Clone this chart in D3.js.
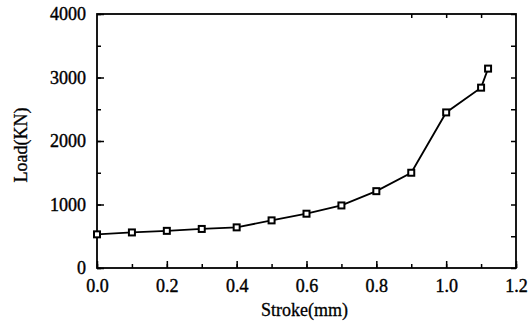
<!DOCTYPE html>
<html>
  <head>
    <meta charset="utf-8" />
    <script src="https://d3js.org/d3.v7.min.js"></script>
    <style>
      body { margin: 0; background: #fff; overflow: hidden; }
      svg { display: block; }
      svg text { font-family: 'Liberation Serif', 'DejaVu Serif', 'Times New Roman', serif; fill: #000; }
      .tick text { font-size: 18px; }
      .axis-label { font-size: 18px; }
    </style>
  </head>
  <body>
    <script>
      const stroke = [0, 0.1, 0.2, 0.3, 0.4, 0.5, 0.6, 0.7, 0.8, 0.9, 1.0, 1.1, 1.12];
      const load = [530, 560, 585, 615, 640, 750, 855, 985, 1210, 1500, 2450, 2840, 3140];
      const xTicks = [0, 0.2, 0.4, 0.6, 0.8, 1.0, 1.2];
      const yTicks = [0, 1000, 2000, 3000, 4000];

      const width = 531, height = 330;
      const margin = { left: 97, right: 15, top: 14, bottom: 62 };
      const innerWidth = width - margin.left - margin.right;
      const innerHeight = height - margin.top - margin.bottom;

      const svg = d3.select('body').append('svg')
        .attr('width', width).attr('height', height);
      const g = svg.append('g')
        .attr('transform', `translate(${margin.left},${margin.top})`);

      const x = d3.scaleLinear().domain([0, 1.2]).range([0, innerWidth]);
      const y = d3.scaleLinear().domain([0, 4000]).range([innerHeight, 0]);

      // frame
      g.append('rect')
        .attr('width', innerWidth).attr('height', innerHeight)
        .attr('fill', 'none').attr('stroke', '#000').attr('stroke-width', 1.8);

      // minor ticks (no labels)
      const xMinor = d3.range(0, 1.21, 0.1);
      const yMinor = d3.range(0, 4001, 500);
      const minor = [];
      minor.push(g.append('g').attr('transform', `translate(0,${innerHeight})`)
        .call(d3.axisBottom(x).tickValues(xMinor).tickSize(-4)));
      minor.push(g.append('g').call(d3.axisTop(x).tickValues([0.9, 1.0, 1.1]).tickSize(-4)));
      minor.push(g.append('g').call(d3.axisLeft(y).tickValues(yMinor).tickSize(-4)));
      minor.push(g.append('g').attr('transform', `translate(${innerWidth},0)`)
        .call(d3.axisRight(y).tickValues(yMinor).tickSize(-5)));
      minor.forEach(a => a.selectAll('text').remove());

      // major ticks with labels
      g.append('g').attr('transform', `translate(0,${innerHeight})`)
        .call(d3.axisBottom(x).tickValues(xTicks).tickSize(-7).tickPadding(11)
          .tickFormat(d3.format('.1f')));
      g.append('g')
        .call(d3.axisLeft(y).tickValues(yTicks).tickSize(-7).tickPadding(11)
          .tickFormat(d3.format('d')));

      g.selectAll('.domain').remove();
      g.selectAll('g.tick').attr('font-family', null);
      g.selectAll('.tick text').attr('stroke', '#000').attr('stroke-width', 0.4);
      g.selectAll('.tick line').attr('stroke', '#000').attr('stroke-width', 1.5);

      const pts = stroke.map((s, i) => [s, load[i]]);
      g.append('path')
        .attr('d', d3.line().x(d => x(d[0])).y(d => y(d[1]))(pts))
        .attr('fill', 'none').attr('stroke', '#000').attr('stroke-width', 1.8);

      g.selectAll('.marker').data(pts).enter().append('rect')
        .attr('class', 'marker')
        .attr('x', d => x(d[0]) - 3).attr('y', d => y(d[1]) - 3)
        .attr('width', 6).attr('height', 6)
        .attr('fill', '#fff').attr('stroke', '#000').attr('stroke-width', 2);

      svg.append('text').attr('class', 'axis-label')
        .attr('x', margin.left + innerWidth / 2 - 2).attr('y', 316)
        .attr('text-anchor', 'middle')
        .attr('stroke', '#000').attr('stroke-width', 0.3)
        .text('Stroke(mm)');

      svg.append('text').attr('class', 'axis-label')
        .attr('transform', `translate(27,${margin.top + innerHeight / 2 + 4}) rotate(-90)`)
        .attr('text-anchor', 'middle')
        .attr('stroke', '#000').attr('stroke-width', 0.3)
        .text('Load(KN)');
    </script>
  </body>
</html>
